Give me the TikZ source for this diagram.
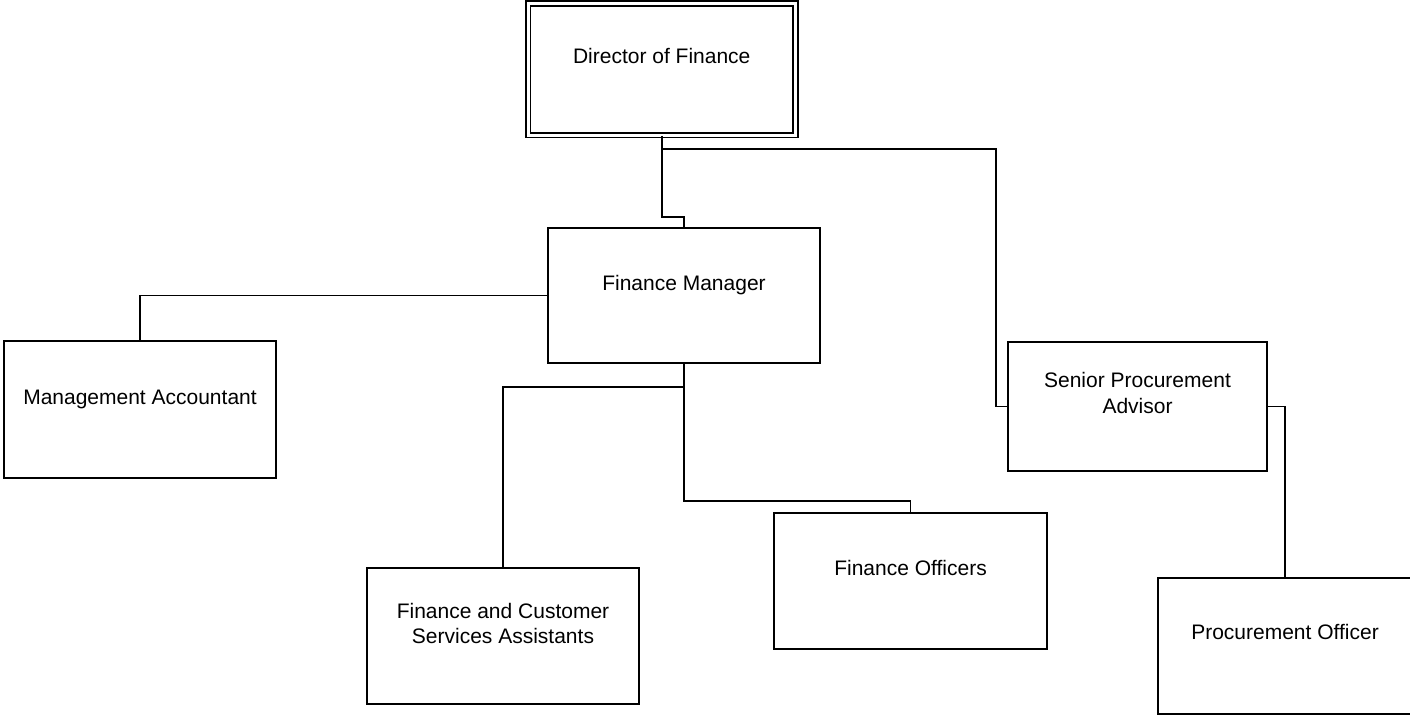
\documentclass[tikz,border=0pt]{standalone}
\usepackage{fontspec}
\setmainfont{Liberation Sans}
\usepackage{tikz}
\newcommand{\postfont}{\fontsize{21}{25.5}\selectfont}

\begin{document}
\begin{tikzpicture}[x=1pt,y=-1pt]
				\tikzstyle{post}=[draw, line width=2pt, minimum width=272pt, inner xsep=0pt, inner ysep=0pt, align=center, font=\postfont]
				\tikzstyle{head}=[post, double, double distance=3pt, line width=1.6pt]
				\tikzstyle{link}=[line width=1.8pt]

				\useasboundingbox (0,0) rectangle (1410,715);

				\node[head, minimum width=267.5pt, text height=60pt, text depth=71.5pt] (director) at (661.75,69.25) {Director of Finance};
				\node[post, text height=62pt, text depth=73pt] (manager) at (684,295.5) {Finance Manager};
				\node[post, text height=63pt, text depth=74pt] (accountant) at (140,409.5) {Management Accountant};
				\node[post, minimum width=259pt, text height=71pt, text depth=58pt] (advisor) at (1137.5,406.5) {Senior Procurement\\Advisor};
				\node[post, minimum width=273pt, text height=62pt, text depth=74pt] (officers) at (910.5,581) {Finance Officers};
				\node[post, text height=75.5pt, text depth=60.5pt] (assistants) at (503,636) {Finance and Customer\\Services Assistants};
				\node[post, minimum width=254pt, text height=62pt, text depth=74pt] (procurement) at (1285,645.5) {Procurement Officer};

				\draw[link] (director.south) -- ++(0,81) -| (manager.north);
				\draw[link] (director.south) -- ++(0,13) -| ([xshift=-11pt]advisor.west) -- (advisor.west);
				\draw[link] (manager.west) -| (accountant.north);
				\draw[link] (manager.south) -- ++(0,23) -| (assistants.north);
				\draw[link] (manager.south) -- ++(0,137) -| (officers.north);
				\draw[link] (advisor.east) -| (procurement.north);
			\end{tikzpicture}
\end{document}
